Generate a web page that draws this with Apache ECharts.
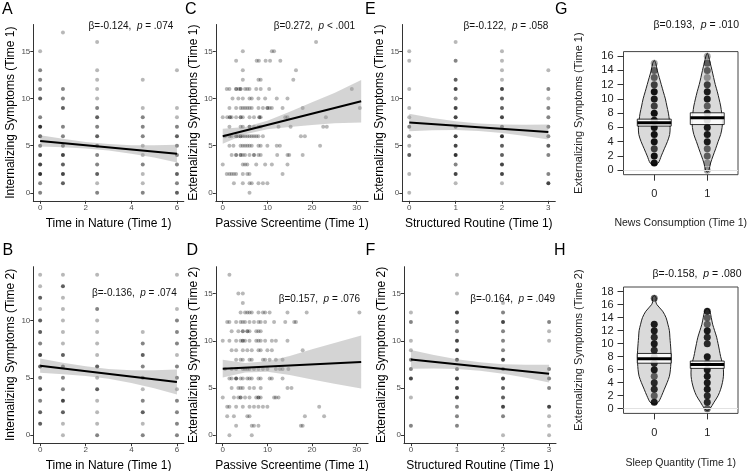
<!DOCTYPE html>
<html><head><meta charset="utf-8">
<script src="https://cdn.jsdelivr.net/npm/echarts@6/dist/echarts.min.js"></script>
<style>html,body{margin:0;padding:0;background:#fff}#c{width:749px;height:471px}</style>
</head><body><div id="c"></div><script>
// ---------------- data ----------------
const natureXTicks = [0, 2, 4, 6];
const screenXTicks = [0, 10, 20, 30];
const routineXTicks = [0, 1, 2, 3];
const symTicks15 = [0, 5, 10, 15];
const symTicks10 = [0, 5, 10];
const newsYTicks = [0, 2, 4, 6, 8, 10, 12, 14, 16];
const sleepYTicks = [0, 2, 4, 6, 8, 10, 12, 14, 16, 18];
const beanCats = [0, 1];

// points: [x, y, number of overlapping observations]
const ptsA = [
[0,15,1],[0,13,2],[0,12,2],[0,11,2],[0,10,3],[0,8,2],[0,7,5],[0,6,3],[0,5,2],[0,4,4],[0,3,4],[0,2,5],[0,1,2],[0,0,2],
[1,17,1],[1,11,2],[1,10,2],[1,9,3],[1,7,2],[1,6,2],[1,5,2],[1,4,4],[1,3,3],[1,2,4],[1,1,3],
[2.5,16,1],[2.5,13,1],[2.5,12,1],[2.5,11,1],[2.5,10,1],[2.5,9,2],[2.5,8,3],[2.5,7,2],[2.5,6,3],[2.5,5,2],[2.5,4,2],[2.5,3,2],[2.5,2,3],[2.5,1,1],[2.5,0,2],
[4.5,12,1],[4.5,9,1],[4.5,8,2],[4.5,7,2],[4.5,6,2],[4.5,5,1],[4.5,4,1],[4.5,3,2],[4.5,2,1],[4.5,1,1],[4.5,0,2],
[6,13,1],[6,9,1],[6,8,1],[6,7,2],[6,6,3],[6,5,2],[6,4,2],[6,3,2],[6,2,3],[6,1,2],[6,0,3]];
const ptsB = [
[0,14,1],[0,13,1],[0,12,3],[0,11,1],[0,10,3],[0,9,3],[0,8,2],[0,7,4],[0,6,3],[0,5,2],[0,4,4],[0,3,2],[0,2,3],[0,1,3],
[1,14,1],[1,13,3],[1,12,1],[1,11,1],[1,10,1],[1,9,1],[1,8,1],[1,7,3],[1,6,2],[1,5,2],[1,4,2],[1,3,4],[1,2,3],[1,1,1],[1,0,1],
[2.5,14,1],[2.5,11,2],[2.5,10,1],[2.5,9,1],[2.5,8,1],[2.5,7,1],[2.5,6,3],[2.5,5,1],[2.5,4,3],[2.5,3,1],[2.5,2,1],[2.5,1,1],[2.5,0,2],
[4.5,9,1],[4.5,8,2],[4.5,7,3],[4.5,6,2],[4.5,5,2],[4.5,4,1],[4.5,3,2],[4.5,2,3],[4.5,1,1],[4.5,0,2],
[6,14,1],[6,11,1],[6,10,2],[6,9,2],[6,8,2],[6,7,1],[6,6,2],[6,5,2],[6,4,1],[6,3,2],[6,2,2],[6,1,2],[6,0,2]];
const ptsC = [
[20.9,16,1],
[4.5,15,1],[11,15,1],[11.5,15,1],
[3,14,1],[7.6,14,1],[8.1,14,1],[9.6,14,1],[10.6,14,1],[12.9,14,1],
[4.5,13,1],[16.4,13,1],
[4.5,12,1],[8,12,1],[8.5,12,1],[15.8,12,1],
[0.9,11,1],[1.5,11,1],[3,11,2],[3.6,11,1],[4,11,2],[5,11,1],[5.5,11,1],[6,11,1],[7.5,11,1],[8.5,11,1],[10.4,11,1],[28.9,11,1],
[2.2,10,1],[3.5,10,1],[4.5,10,1],[6,10,1],[6.5,10,1],[8,10,1],[9.5,10,1],[12.1,10,1],[14.5,10,1],
[1.5,9,1],[3,9,1],[4,9,1],[4.5,9,1],[5,9,1],[5.5,9,1],[6,9,1],[6.5,9,1],[8,9,1],[9,9,1],[10,9,2],[10.5,9,1],[11,9,1],[13.4,9,1],[17.9,9,1],[30.7,9,1],
[0,8,1],[1,8,1],[1.6,8,2],[2,8,1],[3,8,1],[4,8,2],[4.5,8,1],[6,8,1],[7,8,1],[8.2,8,2],[8.5,8,1],[14,8,1],[14.5,8,1],[23.1,8,1],
[1.5,7,1],[4,7,1],[4.5,7,1],[6,7,2],[7,7,1],[8,7,1],[8.5,7,1],[12.5,7,1],[15.2,7,1],[22.5,7,1],[23.3,7,1],
[0.5,6,1],[1.5,6,1],[2,6,1],[3,6,2],[3.5,6,1],[4,6,2],[4.5,6,1],[5,6,1],[5.5,6,1],[6,6,1],[6.5,6,1],[7,6,1],[7.5,6,1],[8,6,1],[9,6,1],[17.5,6,1],[18.4,6,1],
[1.5,5,1],[2.4,5,1],[4,5,1],[4.5,5,1],[5,5,1],[5.5,5,1],[6,5,1],[6.5,5,1],[8,5,1],[8.5,5,1],[10,5,1],[12.1,5,1],[12.8,5,1],[21.8,5,1],
[2,4,1],[3,4,2],[4,4,2],[4.5,4,1],[5,4,1],[6,4,1],[7,4,2],[8,4,1],[8.5,4,1],[12.2,4,1],[14.5,4,1],[14.9,4,1],[17.9,4,1],
[0,3,1],[4.5,3,1],[5,3,1],[5.5,3,1],[7.5,3,1],[9.5,3,1],[11,3,1],[14.5,3,1],
[0.9,2,1],[1.5,2,1],[2,2,1],[2.5,2,1],[3,2,1],[4.5,2,1],[5.5,2,1],[6,2,1],[13.4,2,1],
[2.5,1,1],[4.5,1,1],[6,1,1],[6.5,1,1],[8,1,1],[9,1,1],[10,1,1],
[6,0,1]];
const ptsD = [
[1.5,17,1],
[3.5,15,1],[4.5,15,1],
[4.5,14,1],
[4,13,1],[5,13,1],[5.5,13,1],[6,13,1],[6.5,13,1],[8,13,1],[9,13,1],[9.5,13,1],[10.5,13,1],[14.5,13,1],[18.8,13,1],[30.6,13,1],
[1,12,1],[1.5,12,1],[3,12,1],[4,12,1],[4.5,12,1],[5,12,1],[6,12,1],[7,12,1],[8,12,1],[8.5,12,1],[9.5,12,1],[11.5,12,1],[14,12,1],[16,12,1],[16.4,12,1],
[2,11,1],[3.5,11,1],[4.5,11,2],[5.5,11,2],[6,11,1],[7.5,11,1],[8,11,1],[8.5,11,1],
[0,10,1],[1.5,10,1],[3,10,1],[4,10,1],[4.5,10,2],[5,10,1],[6,10,1],[7.5,10,1],[8,10,1],[8.5,10,1],[9.5,10,1],[11,10,1],[11.9,10,1],[14.5,10,1],
[2,9,1],[3,9,1],[4.5,9,1],[5.5,9,1],[6.5,9,1],[8,9,1],[8.5,9,1],[10,9,1],[11,9,1],[17.9,9,1],
[3,8,1],[4,8,1],[4.5,8,1],[6,8,1],[6.5,8,1],[9,8,1],[9.5,8,1],[10.5,8,1],[11.9,8,1],[13.4,8,1],
[0.5,7,1],[2,7,1],[3,7,1],[4.5,7,1],[5,7,1],[5.5,7,1],[6,7,1],[7,7,1],[8,7,1],[9,7,1],[10,7,1],[11.9,7,1],[12.8,7,1],[13.4,7,1],[14.7,7,1],
[1.5,6,1],[2,6,1],[3,6,3],[4,6,1],[4.5,6,1],[5.5,6,1],[6,6,1],[6.5,6,1],[8,6,1],[8.5,6,1],[10.5,6,1],[11,6,1],[13.4,6,1],
[2,5,1],[3.5,5,1],[4,5,1],[4.5,5,1],[6,5,1],[7,5,1],[8.5,5,1],[14.5,5,1],[15.4,5,1],
[0,4,1],[2.5,4,1],[3.5,4,1],[4,4,2],[5,4,1],[6,4,1],[7.5,4,1],[8,4,2],[8.5,4,1],[11.5,4,1],[11.9,4,1],[12.5,4,1],
[1,3,1],[1.5,3,1],[3,3,1],[4.5,3,1],[6,3,1],[7,3,1],[8,3,1],[9,3,1],[10,3,1],[21.6,3,1],
[1,2,1],[2.5,2,1],[5.5,2,1],[6,2,1],[18.4,2,1],[22.7,2,1],
[3,1,1],[6.5,1,1],[7,1,1],[8,1,1],[17.5,1,1],[17.9,1,1],
[1.5,0,1],[6.5,0,1]];
const ptsE = [
[0,15,1],[0,14,1],[0,11,1],[0,9,1],[0,8,1],[0,7,2],[0,6,2],[0,5,1],[0,4,3],[0,2,1],[0,0,1],
[1,16,1],[1,14,2],[1,12,3],[1,11,4],[1,10,2],[1,9,4],[1,8,4],[1,7,2],[1,6,4],[1,5,4],[1,4,5],[1,3,2],[1,2,4],[1,1,1],
[2,15,1],[2,14,1],[2,13,1],[2,12,1],[2,11,4],[2,10,3],[2,9,3],[2,8,4],[2,7,2],[2,6,5],[2,5,3],[2,4,3],[2,3,4],[2,2,4],[2,1,1],
[3,13,1],[3,11,2],[3,10,1],[3,9,2],[3,8,2],[3,7,2],[3,6,2],[3,5,3],[3,4,2],[3,2,2],[3,1,4]];
const ptsF = [
[0,13,1],[0,12,2],[0,10,1],[0,9,1],[0,8,2],[0,7,2],[0,6,4],[0,4,1],[0,1,2],
[1,17,1],[1,15,1],[1,13,4],[1,12,3],[1,11,2],[1,10,4],[1,9,4],[1,8,3],[1,7,2],[1,6,4],[1,5,4],[1,4,4],[1,3,2],[1,2,2],[1,1,2],
[2,14,1],[2,13,2],[2,12,4],[2,11,2],[2,10,2],[2,9,2],[2,8,4],[2,7,2],[2,6,4],[2,5,3],[2,4,3],[2,3,4],[2,2,2],[2,0,1],
[3,12,2],[3,11,1],[3,10,1],[3,7,2],[3,6,2],[3,5,2],[3,3,4],[3,2,1],[3,1,1],[3,0,1]];

// regression fits: line endpoints, and 95% band [x, lower, upper]
const fitA = [[0,5.5],[6,4.15]];
const bandA = [[0,4.9,6.1],[1,4.83,5.73],[2,4.7,5.4],[3,4.48,5.18],[4,4.15,5.05],[5,3.73,5.03],[6,3.2,5.1]];
const fitB = [[0,6.06],[6,4.64]];
const bandB = [[0,5.44,6.68],[1,5.32,6.32],[2,5.17,6.01],[3,4.92,5.78],[4,4.56,5.66],[5,4.1,5.66],[6,3.54,5.74]];
const fitC = [[0,6.0],[31,9.7]];
const bandC = [[0,5.2,6.8],[5,6.22,6.98],[10,6.74,7.64],[15,6.99,8.59],[20,7.19,9.59],[25,7.38,10.58],[31,7.45,11.95]];
const fitD = [[0,7.04],[31,7.75]];
const bandD = [[0,6.1,7.98],[5,6.65,7.65],[10,6.72,7.82],[15,6.38,8.38],[20,5.9,9.1],[25,5.46,9.76],[31,4.95,10.55]];
const fitE = [[0,7.45],[3,6.45]];
const bandE = [[0,6.52,8.38],[0.5,6.63,7.93],[1,6.65,7.59],[1.5,6.55,7.35],[2,6.33,7.23],[2.5,6.02,7.22],[3,5.65,7.25]];
const fitF = [[0,8.03],[3,6.52]];
const bandF = [[0,7.03,9.03],[0.5,7.06,8.5],[1,7.01,8.05],[1.5,6.83,7.73],[2,6.52,7.52],[2.5,6.09,7.45],[3,5.57,7.47]];

// pirate plots: bean half widths [y, halfWidth], points [y, count], summaries
const newsBean0 = [[0.7,0],[1,.076],[2,.133],[3,.19],[4,.248],[5,.291],[6,.299],[7,.286],[8,.267],[9,.238],[10,.21],[11,.171],[12,.133],[13,.095],[14,.057],[15,.029],[15.4,0]];
const newsBean1 = [[-0.3,0],[0,.032],[1,.063],[2,.109],[3,.158],[4,.204],[5,.253],[6,.28],[7,.286],[8,.272],[9,.253],[10,.223],[11,.19],[12,.152],[13,.12],[14,.09],[15,.057],[16,.025],[16.4,0]];
const sleepBean0 = [[0.7,0],[1,.076],[2,.139],[3,.19],[4,.242],[5,.286],[6,.305],[7,.314],[8,.318],[9,.314],[10,.305],[11,.295],[12,.286],[13,.257],[14,.223],[15,.158],[16,.051],[16.5,.029],[17,.038],[17.4,0]];
const sleepBean1 = [[-0.3,0],[0,.051],[1,.128],[2,.204],[3,.253],[4,.286],[5,.305],[6,.305],[7,.286],[8,.253],[9,.229],[10,.204],[11,.177],[12,.139],[13,.101],[14,.076],[15,.048],[15.4,0]];
const newsPts0 = [[1,6],[2,6],[3,3],[4,6],[5,6],[6,6],[7,5],[8,6],[9,3],[10,5],[11,6],[12,3],[13,2],[14,2],[15,1]];
const newsPts1 = [[0,1],[1,1],[2,2],[3,2],[4,5],[5,5],[6,5],[7,4],[8,5],[9,2],[10,5],[11,5],[12,3],[13,1],[14,2],[15,2],[16,1]];
const sleepPts0 = [[1,5],[2,2],[3,4],[4,4],[5,2],[6,5],[7,4],[8,5],[9,4],[10,5],[11,4],[12,5],[13,5],[17,2]];
const sleepPts1 = [[0,2],[1,4],[2,4],[3,5],[4,5],[5,5],[6,5],[7,2],[8,5],[10,4],[11,4],[12,5],[13,2],[14,2],[15,4]];
const newsMean = [6.65, 7.35], newsLo = [6.18, 6.4], newsHi = [7.16, 8.05];
const sleepMean = [7.7, 6.8], sleepLo = [7.0, 6.2], sleepHi = [8.5, 7.33];

// ---------------- chart ----------------
const FONT = '"Liberation Sans", Arial, Helvetica, sans-serif';
const op = (n, a) => 1 - Math.pow(1 - a, n);
const option = {animation:false, backgroundColor:'#fff', grid:[], xAxis:[], yAxis:[], series:[], graphic:[]};

function addGG(box, xr, yr, xt, yt, xname, yname, pts, fit, band) {
  const i = option.grid.length;
  option.grid.push({left:box[0], top:box[1], width:box[2], height:box[3], containLabel:false, outerBoundsMode:'none'});
  const axLine = {show:true, onZero:false, lineStyle:{color:'#333', width:1}};
  const lab = {fontFamily:FONT, fontSize:8, color:'#4d4d4d', margin:3};
  option.xAxis.push({gridIndex:i, type:'value', min:xr[0], max:xr[1], name:xname, nameLocation:'middle', nameGap:16.5, nameMoveOverlap:false,
    nameTextStyle:{fontFamily:FONT, fontSize:12, color:'#000'}, axisLine:axLine,
    axisTick:{show:true, length:3, lineStyle:{color:'#333'}, customValues:xt},
    axisLabel:Object.assign({customValues:xt}, lab), splitLine:{show:false}});
  option.yAxis.push({gridIndex:i, type:'value', min:yr[0], max:yr[1], name:yname, nameLocation:'middle', nameGap:16.6, nameRotate:90, nameMoveOverlap:false,
    nameTextStyle:{fontFamily:FONT, fontSize:12, color:'#000'}, axisLine:axLine,
    axisTick:{show:true, length:3, lineStyle:{color:'#333'}, customValues:yt},
    axisLabel:Object.assign({customValues:yt}, lab), splitLine:{show:false}});
  option.series.push({type:'scatter', xAxisIndex:i, yAxisIndex:i, symbolSize:4, z:2, silent:true,
    data: pts.map(p => ({value:[p[0], p[1]], itemStyle:{color:'#000', opacity:op(p[2], 0.28)}}))});
  option.series.push({type:'custom', xAxisIndex:i, yAxisIndex:i, z:3, silent:true, data:band, encode:{x:0, y:[1,2]},
    renderItem:(params, api) => {
      if (params.dataIndex !== 0) return {type:'group', children:[]};
      const up = band.map(r => api.coord([r[0], r[2]]));
      const lo = band.slice().reverse().map(r => api.coord([r[0], r[1]]));
      return {type:'polygon', shape:{points:up.concat(lo)}, style:{fill:'#999', opacity:0.42}};
    }});
  option.series.push({type:'line', xAxisIndex:i, yAxisIndex:i, z:4, silent:true, data:fit, showSymbol:false, symbol:'none',
    lineStyle:{color:'#000', width:2}});
}

function addPirate(box, yr, yt, xname, yname, xgap, beans, pts, mean, lo, hi) {
  const i = option.grid.length;
  option.grid.push({left:box[0], top:box[1], width:box[2], height:box[3], containLabel:false, outerBoundsMode:'none',
    show:true, borderColor:'#444', borderWidth:1, backgroundColor:'transparent'});
  option.xAxis.push({gridIndex:i, type:'value', min:-0.58, max:1.58, name:xname, nameLocation:'middle', nameGap:xgap, nameMoveOverlap:false,
    nameTextStyle:{fontFamily:FONT, fontSize:10.5, color:'#222'}, axisLine:{show:false, onZero:false},
    axisTick:{show:true, length:6, lineStyle:{color:'#333'}, customValues:beanCats},
    axisLabel:{customValues:beanCats, fontFamily:FONT, fontSize:11, color:'#222', margin:14}, splitLine:{show:false}});
  option.yAxis.push({gridIndex:i, type:'value', min:yr[0], max:yr[1], name:yname, nameLocation:'middle', nameGap:39, nameRotate:90, nameMoveOverlap:false,
    nameTextStyle:{fontFamily:FONT, fontSize:11, color:'#222'}, axisLine:{show:false, onZero:false},
    axisTick:{show:true, length:6, lineStyle:{color:'#333'}, customValues:yt},
    axisLabel:{customValues:yt, fontFamily:FONT, fontSize:11, color:'#222', margin:10}, splitLine:{show:false}});
  beans.forEach((bean, k) => {
    const c = beanCats[k];
    option.series.push({type:'custom', xAxisIndex:i, yAxisIndex:i, z:2, silent:true,
      data: bean.map(r => [c, r[0]]), encode:{x:0, y:1},
      renderItem:(params, api) => {
        if (params.dataIndex !== 0) return {type:'group', children:[]};
        const right = bean.map(r => api.coord([c + r[1], r[0]]));
        const left = bean.slice().reverse().filter(r => r[1] > 0).map(r => api.coord([c - r[1], r[0]]));
        return {type:'polygon', shape:{points:right.concat(left), smooth:0.3}, style:{fill:'#dadada', stroke:'#222', lineWidth:1}};
      }});
    option.series.push({type:'scatter', xAxisIndex:i, yAxisIndex:i, symbolSize:7, z:3, silent:true,
      data: pts[k].map(p => ({value:[c, p[0]], itemStyle:{color:'#000', opacity:op(p[1], 0.35)}})),
      markLine: k === 0 ? {silent:true, symbol:'none', label:{show:false}, data:[{yAxis:0}], lineStyle:{color:'#e2e2e2', width:1, type:'solid'}} : undefined});
  });
  option.series.push({type:'custom', xAxisIndex:i, yAxisIndex:i, z:5, silent:true,
    data: beanCats.map((c, k) => [c, mean[k], lo[k], hi[k]]), encode:{x:0, y:[1,2,3]},
    renderItem:(params, api) => {
      const c = api.value(0), m = api.value(1), l = api.value(2), h = api.value(3), w = 0.32;
      const p1 = api.coord([c - w, h]), p2 = api.coord([c + w, l]);
      const m1 = api.coord([c - w, m]), m2 = api.coord([c + w, m]);
      return {type:'group', children:[
        {type:'rect', shape:{x:p1[0], y:p1[1], width:p2[0]-p1[0], height:p2[1]-p1[1]}, style:{fill:'rgba(255,255,255,0.85)', stroke:'#000', lineWidth:0.8}},
        {type:'line', shape:{x1:m1[0], y1:m1[1], x2:m2[0], y2:m2[1]}, style:{stroke:'#000', lineWidth:3}}]};
    }});
}

addGG([33.3,24.5,150.5,176.3], [-0.3,6.3], [-0.85,17.85], natureXTicks, symTicks15, 'Time in Nature (Time 1)', 'Internalizing Symptoms (Time 1)', ptsA, fitA, bandA);
addGG([215.8,24.5,152.3,176.3], [-1.55,32.55], [-0.85,17.85], screenXTicks, symTicks15, 'Passive Screentime (Time 1)', 'Externalizing Symptoms (Time 1)', ptsC, fitC, bandC);
addGG([402.3,24.5,153,176.3], [-0.15,3.15], [-0.85,17.85], routineXTicks, symTicks15, 'Structured Routine (Time 1)', 'Externalizing Symptoms (Time 1)', ptsE, fitE, bandE);
addGG([33.3,266.7,150.5,176.5], [-0.3,6.3], [-0.7,14.7], natureXTicks, symTicks10, 'Time in Nature (Time 1)', 'Internalizing Symptoms (Time 2)', ptsB, fitB, bandB);
addGG([215.8,266.7,152.3,176.5], [-1.55,32.55], [-0.85,17.85], screenXTicks, symTicks15, 'Passive Screentime (Time 1)', 'Externalizing Symptoms (Time 2)', ptsD, fitD, bandD);
addGG([404,266.7,152,176.5], [-0.15,3.15], [-0.85,17.85], routineXTicks, symTicks15, 'Structured Routine (Time 1)', 'Externalizing Symptoms (Time 2)', ptsF, fitF, bandF);
addPirate([623.5,51.6,114.5,123.1], [-0.64,16.64], newsYTicks, 'News Consumption (Time 1)', 'Externalizing Symptoms (Time 1)', 43,
  [newsBean0, newsBean1], [newsPts0, newsPts1], newsMean, newsLo, newsHi);
addPirate([623.5,287,114.5,126.4], [-0.72,18.72], sleepYTicks, 'Sleep Quantity (Time 1)', 'Externalizing Symptoms (Time 2)', 44,
  [sleepBean0, sleepBean1], [sleepPts0, sleepPts1], sleepMean, sleepLo, sleepHi);

// panel letters and statistics
const letters = [['A',2,10],['C',185,10],['E',365,10],['G',555,10],['B',2.5,251],['D',186.5,251],['F',365.5,251],['H',554,251]];
letters.forEach(l => option.graphic.push({type:'text', x:l[1], y:l[2], silent:true,
  style:{text:l[0], fontFamily:FONT, fontSize:16, fill:'#000', verticalAlign:'middle', align:'left'}}));
const stats = [
  ['β=-0.124,  ', ' = .074', 173.3, 26.7, 10],
  ['β=0.272,  ', ' < .001', 355, 26.7, 10],
  ['β=-0.122,  ', ' = .058', 548.3, 26.7, 10],
  ['β=0.193,  ', ' = .010', 739, 25, 10.5],
  ['β=-0.136,  ', ' = .074', 176.7, 293.3, 10],
  ['β=0.157,  ', ' = .076', 360, 299.3, 10],
  ['β=-0.164,  ', ' = .049', 555, 299.3, 10],
  ['β=-0.158,  ', ' = .080', 741.5, 274.3, 10.5]];
stats.forEach(s => option.graphic.push({type:'text', x:s[2], y:s[3], silent:true,
  style:{text:'{n|' + s[0] + '}{i|p}{n|' + s[1] + '}', align:'right', verticalAlign:'middle',
    rich:{n:{fontFamily:FONT, fontSize:s[4], fill:'#111'}, i:{fontFamily:FONT, fontSize:s[4], fontStyle:'italic', fill:'#111'}}}}));

const chart = echarts.init(document.getElementById('c'), null, {renderer:'canvas'});
chart.setOption(option);
</script></body></html>
